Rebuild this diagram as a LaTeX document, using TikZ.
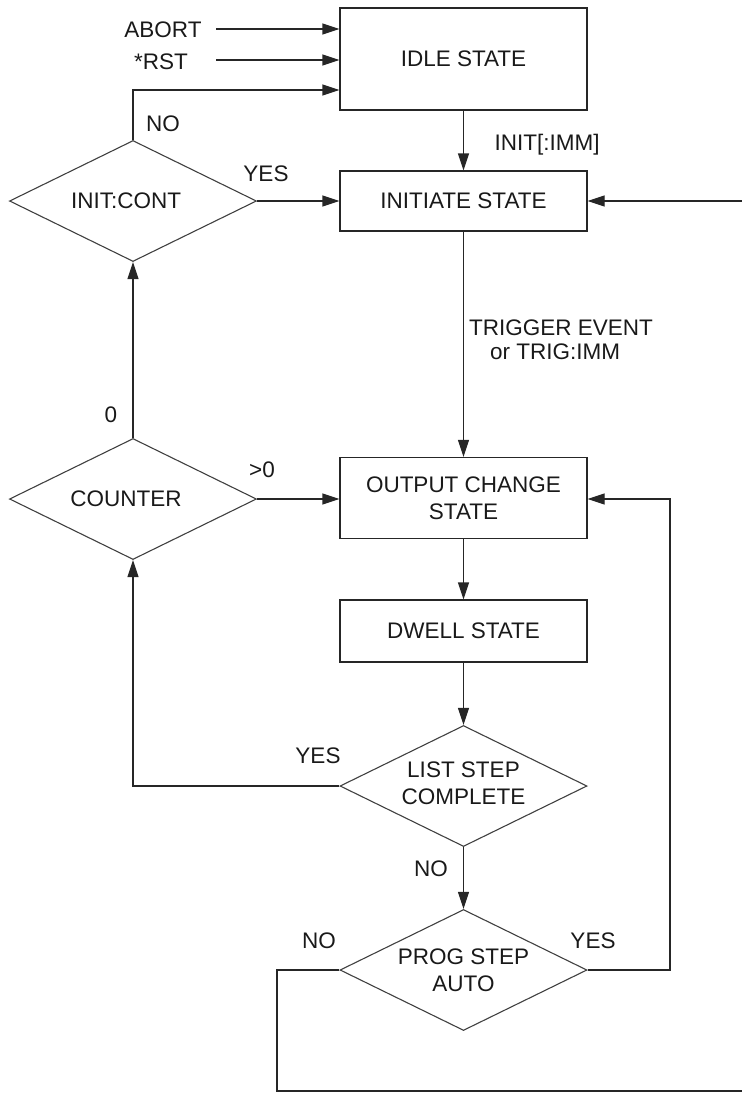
\documentclass[tikz,border=0pt]{standalone}
\usepackage{fontspec}
\setmainfont{Liberation Sans}
\usetikzlibrary{arrows.meta,shapes.geometric}
\begin{document}
\begin{tikzpicture}[x=1pt,y=-1pt,
  every node/.style={font=\fontsize{22.5}{27}\selectfont,text=black!90},
  statebox/.style={draw=black!85,line width=1.2pt,rectangle,minimum width=247pt,inner sep=0pt,align=center},
  decision/.style={draw=black!75,line width=1.1pt,diamond,shape aspect=2.04,minimum width=247pt,minimum height=121pt,inner sep=0pt,align=center},
  flow/.style={draw=black!85,line width=1.2pt,-{Triangle[length=17pt,width=11pt]}},
  plain/.style={draw=black!85,line width=1.2pt},
  lbl/.style={inner sep=0pt}]
\useasboundingbox (0,0) rectangle (742,1093);

% state boxes
\node[statebox,minimum height=102pt] (idle) at (463.5,59) {IDLE STATE};
\node[statebox,minimum height=60pt] (init) at (463.5,201) {INITIATE STATE};
\node[statebox,minimum height=81pt] (out) at (463.5,498) {OUTPUT CHANGE\\STATE};
\node[statebox,minimum height=62pt] (dwell) at (463.5,631) {DWELL STATE};

% decisions
\node[decision] (cont) at (133,201) {\hspace*{-14pt}INIT:CONT};
\node[decision] (cnt) at (133,499) {\hspace*{-14pt}COUNTER};
\node[decision] (list) at (463.5,786) {\raisebox{5pt}{\begin{tabular}{@{}c@{}}LIST STEP\\COMPLETE\end{tabular}}};
\node[decision] (prog) at (463.5,970) {PROG STEP\\AUTO};

% inputs to idle
\node[lbl] (abort) at (163,30) {ABORT};
\node[lbl] (rst) at (161,62) {*RST};
\coordinate (abortS) at (216,29);
\coordinate (rstS) at (216,60);
\draw[flow] (abortS) -- (abortS -| idle.west);
\draw[flow] (rstS) -- (rstS -| idle.west);
\draw[flow] (cont.north) |- (idle.west |- 0,90);

% labels
\node[lbl] (lno1) at (163,124) {NO};
\node[lbl] (lyes1) at (266,174) {YES};
\node[lbl] (limm) at (547,145) {INIT[:IMM]};
\node[lbl,anchor=north west,align=left] (ltrig) at (469,320) {TRIGGER EVENT\\[-3.5pt]\hspace*{21pt}or TRIG:IMM};
\node[lbl] (lgt) at (262,470) {>0};
\node[lbl] (lzero) at (111,415) {0};
\node[lbl] (lyes2) at (318,756) {YES};
\node[lbl] (lno2) at (431,869) {NO};
\node[lbl] (lno3) at (319,941) {NO};
\node[lbl] (lyes3) at (593,941) {YES};

% main flow
\draw[flow] (idle) -- (init);
\draw[flow] (cont.east) -- (init.west |- cont.east);
\coordinate (rin) at (742,201);
\draw[flow] (rin) -- (init.east |- rin);
\draw[flow] (init) -- (out);
\draw[flow] (cnt.north) -- (cont.south);
\draw[flow] (cnt.east) -- (out.west |- cnt.east);
\draw[flow] (out) -- (dwell);
\draw[flow] (dwell) -- (list.north);
\draw[flow] (list.west) -| (cnt.south);
\draw[flow] (list.south) -- (prog.north);
\draw[flow] (prog.east) -| (670,499) -- (out.east |- 0,499);
\coordinate (rout) at (742,1091);
\draw[plain] (prog.west) -| (277,1091) -- (rout);
\end{tikzpicture}
\end{document}
